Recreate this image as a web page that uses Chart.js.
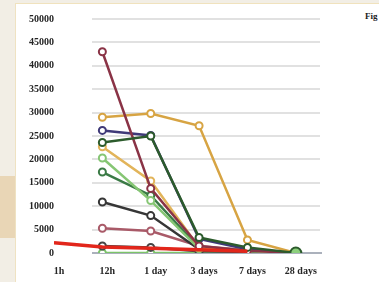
<!DOCTYPE html>
<html>
<head>
<meta charset="utf-8">
<script src="https://cdn.jsdelivr.net/npm/chart.js@4.4.1/dist/chart.umd.min.js"></script>
<style>
  html, body { margin: 0; padding: 0; }
  body { width: 379px; height: 282px; background: #f2eee5; position: relative; overflow: hidden; }
  .wood { position: absolute; left: 0; top: 176px; width: 15px; height: 62px; background: #e9d6b6; }
  .card { position: absolute; left: 15px; top: 3px; right: 0; bottom: 0; background: #fff;
          border-left: 1px solid #efe2c2; border-top: 1px solid #f0e2bd; }
  .fig { position: absolute; left: 365px; top: 11px; font: bold 9px "Liberation Serif", serif; color: #222; }
  canvas { position: absolute; left: 0; top: 0; }
</style>
</head>
<body>
<div class="wood"></div>
<div class="card"></div>
<div class="fig">Fig</div>
<canvas id="chart" width="379" height="282"></canvas>
<script>
// time points on the x axis
const timeLabels = ['1h', '12h', '1 day', '3 days', '7 days', '28 days'];
const yTicks = [0, 5000, 10000, 15000, 20000, 25000, 30000, 35000, 40000, 45000, 50000];

// values per series (null = no point)
const redLine     = [2200, 1300, 1000, 700, 400, null];
const maroon      = [null, 43000, 13800, 1500, 500, 0];
const gold        = [null, 29000, 29800, 27200, 2800, 0];
const purple      = [null, 26200, 25100, 3000, 800, 0];
const darkGreen   = [null, 23600, 25000, 3300, 1200, 0];
const lightGold   = [null, 22700, 15400, 1200, 600, 0];
const lightGreen  = [null, 20300, 11200, 900, 400, 0];
const midGreen    = [null, 17300, 12300, 1100, 500, 0];
const charcoal    = [null, 10900, 8000, 800, 300, 0];
const rose        = [null, 5300, 4700, 1500, 600, 0];
const greyLow     = [null, 1500, 1200, 400, 200, 0];
const brightGreen = [null, 0, 0, 0, 0, 0];

function pts(arr) {
  return arr.map(function(v, i) { return { x: i, y: v }; });
}

function series(arr, color, extra) {
  var ds = {
    data: pts(arr),
    borderColor: color,
    backgroundColor: color,
    borderWidth: 2.5,
    pointRadius: 3.5,
    pointBorderWidth: 2,
    pointBorderColor: color,
    pointBackgroundColor: '#ffffff',
    tension: 0,
    spanGaps: false
  };
  return Object.assign(ds, extra || {});
}

// light grid, starting right of the first category like in the picture
const gridPlugin = {
  id: 'softGrid',
  beforeDatasetsDraw: function(chart) {
    var ctx = chart.ctx, xs = chart.scales.x, ys = chart.scales.y, area = chart.chartArea;
    var x0 = xs.getPixelForValue(0) + 38;
    ctx.save();
    yTicks.forEach(function(t) {
      var y = Math.round(ys.getPixelForValue(t));
      ctx.beginPath();
      if (t === 0) { ctx.strokeStyle = '#8f97a6'; ctx.lineWidth = 1.5; }
      else { ctx.strokeStyle = '#e1e1e1'; ctx.lineWidth = 2; }
      ctx.moveTo(x0, y);
      ctx.lineTo(area.right + (t === 0 ? 2 : 0), y);
      ctx.stroke();
    });
    ctx.restore();
  }
};

const tickFont = { family: '"Liberation Serif", serif', size: 10, weight: 'bold' };

new Chart(document.getElementById('chart'), {
  type: 'line',
  data: {
    datasets: [
      series(redLine, '#e2261b', { borderWidth: 3.5, pointRadius: 0 }),
      series(darkGreen, '#2c5b2c', {
        pointRadius: function(c) { return c.dataIndex === 5 ? 5.5 : 3.5; },
        pointBackgroundColor: function(c) { return c.dataIndex === 5 ? '#8ccf7c' : '#ffffff'; }
      }),
      series(maroon, '#8a3346'),
      series(gold, '#d7a443'),
      series(purple, '#3f3978'),
      series(lightGold, '#e2b45a'),
      series(lightGreen, '#86c674'),
      series(midGreen, '#3a7a45'),
      series(charcoal, '#363636'),
      series(rose, '#a95a68'),
      series(greyLow, '#454545'),
      series(brightGreen, '#7cc46a')
    ]
  },
  options: {
    responsive: false,
    animation: false,
    devicePixelRatio: 1,
    layout: { padding: { left: 0, right: 59, top: 19, bottom: 0 } },
    plugins: { legend: { display: false }, tooltip: { enabled: false } },
    scales: {
      x: {
        type: 'linear',
        min: 0,
        max: 5.5,
        afterBuildTicks: function(scale) {
          scale.ticks = timeLabels.map(function(l, i) { return { value: i }; });
        },
        afterFit: function(scale) { scale.height = 29; },
        ticks: {
          callback: function(v) { return timeLabels[v]; },
          color: '#262626',
          font: tickFont,
          padding: 12,
          labelOffset: 5,
          maxRotation: 0,
          autoSkip: false
        },
        grid: { display: false, drawTicks: false },
        border: { display: false }
      },
      y: {
        min: 0,
        max: 50000,
        afterBuildTicks: function(scale) {
          scale.ticks = yTicks.map(function(v) { return { value: v }; });
        },
        afterFit: function(scale) { scale.width = 54; },
        ticks: {
          callback: function(v) { return String(v); },
          color: '#262626',
          font: tickFont,
          padding: 0
        },
        grid: { display: false, drawTicks: false },
        border: { display: false }
      }
    }
  },
  plugins: [gridPlugin]
});
</script>
</body>
</html>
